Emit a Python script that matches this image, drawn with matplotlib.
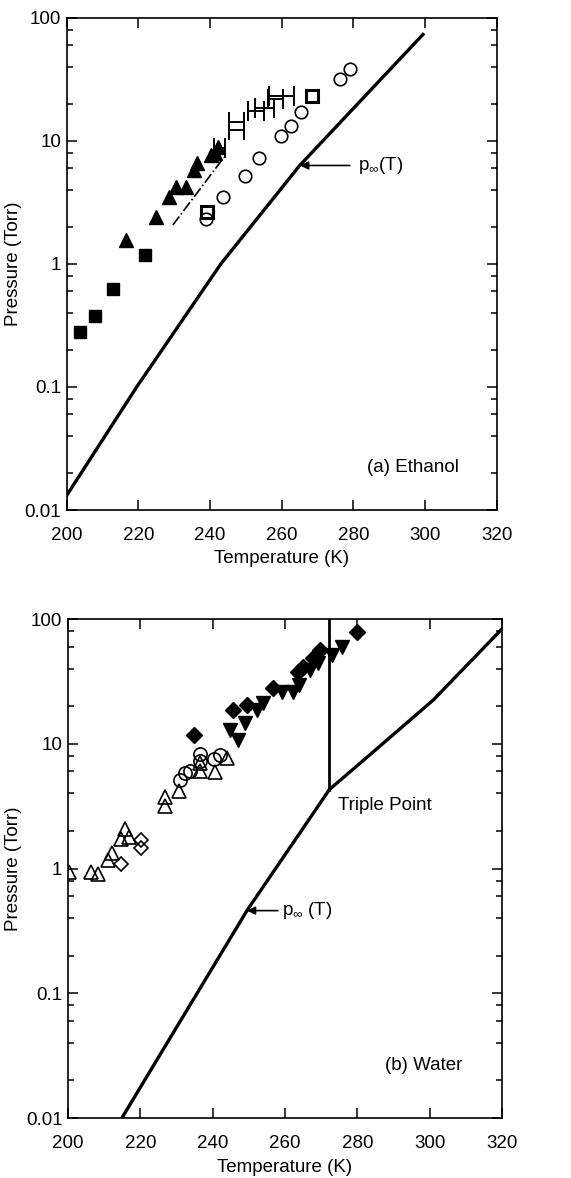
import matplotlib
matplotlib.use("Agg")
import matplotlib.pyplot as plt
from matplotlib.ticker import FixedLocator, FixedFormatter, NullFormatter
import numpy as np

plt.rcParams['font.family'] = ['Liberation Sans', 'DejaVu Sans']
plt.rcParams['mathtext.fontset'] = 'custom'
plt.rcParams['mathtext.rm'] = 'Liberation Sans'
plt.rcParams['mathtext.it'] = 'Liberation Sans'
plt.rcParams['mathtext.default'] = 'regular'

# ---------------- (a) Ethanol ----------------
eth_curve_T = [200.0, 219.5, 243.0, 265.0, 299.4]
eth_curve_P = [0.0132, 0.10, 1.0, 6.3, 73.0]

eth_fsq_T = [203.6, 207.8, 212.9, 221.8]
eth_fsq_P = [0.28, 0.38, 0.62, 1.18]

eth_ftri_T = [216.5, 224.8, 228.6, 230.6, 233.2, 235.5, 236.3, 240.2, 241.3, 242.2]
eth_ftri_P = [1.55, 2.4, 3.5, 4.2, 4.2, 5.8, 6.6, 7.7, 7.9, 8.9]

eth_ocirc_T = [238.8, 243.5, 249.7, 253.7, 259.7, 262.6, 265.4, 276.3, 279.1]
eth_ocirc_P = [2.3, 3.5, 5.2, 7.3, 11.0, 13.2, 17.2, 31.9, 38.5]

eth_osq_T = [239.0, 268.3]
eth_osq_P = [2.65, 23.0]

eth_eb_T = [247.4, 247.4, 252.9, 255.1, 258.2, 259.8, 242.6]
eth_eb_P = [12.3, 14.1, 17.5, 18.5, 21.8, 23.2, 8.7]
eth_eb_xerr = [2.0, 2.0, 2.2, 2.6, 2.0, 3.5, 1.6]

eth_dash_T = [229.6, 243.8]
eth_dash_P = [2.07, 7.3]

# ---------------- (b) Water ----------------
wat_curve_T = [214.9, 249.5, 272.3, 282.7, 301.0, 319.8]
wat_curve_P = [0.010, 0.46, 4.3, 7.8, 22.4, 82.0]

triple_T = [272.3, 272.3]
triple_P = [4.3, 100.0]

wat_otri_T = [200.2, 206.5, 208.2, 211.0, 212.1, 214.8, 215.9, 216.8, 226.9, 226.9,
              230.7, 236.6, 240.7, 236.4, 243.9]
wat_otri_P = [0.94, 0.94, 0.90, 1.17, 1.33, 1.72, 2.09, 1.78, 3.2, 3.74,
              4.15, 6.1, 5.9, 7.0, 7.7]

wat_odia_T = [214.8, 220.2, 220.2]
wat_odia_P = [1.08, 1.46, 1.68]

wat_ocirc_T = [230.9, 232.5, 233.7, 236.4, 236.4, 240.5, 242.1]
wat_ocirc_P = [5.1, 5.85, 6.0, 8.3, 7.3, 7.6, 8.1]

wat_fdia_T = [234.8, 245.6, 249.4, 256.6, 263.7, 265.0, 267.8, 269.7, 279.9]
wat_fdia_P = [11.8, 18.6, 20.4, 28.0, 37.6, 41.6, 48.7, 56.0, 78.7]

wat_vtri_T = [244.8, 247.0, 248.9, 252.2, 254.0, 259.2, 262.2, 263.9, 266.9, 269.1, 273.0, 275.7]
wat_vtri_P = [12.9, 10.7, 14.7, 18.6, 21.2, 25.8, 25.8, 29.7, 38.8, 44.4, 51.5, 59.7]

x_ticks = [200, 220, 240, 260, 280, 300, 320]
y_ticks = [0.01, 0.1, 1, 10, 100]
y_ticklabels = ['0.01', '0.1', '1', '10', '100']

FS = 13.5

fig = plt.figure(figsize=(5.71, 11.78), dpi=100)
ax1 = fig.add_axes([0.117, 0.567, 0.753, 0.418])
ax2 = fig.add_axes([0.119, 0.0509, 0.760, 0.4236])


def style(ax):
    ax.set_yscale('log')
    ax.set_xlim(200, 320)
    ax.set_ylim(0.01, 100)
    ax.xaxis.set_major_locator(FixedLocator(x_ticks))
    ax.yaxis.set_major_locator(FixedLocator(y_ticks))
    ax.yaxis.set_major_formatter(FixedFormatter(y_ticklabels))
    minors = [m * 10.0 ** e for e in range(-2, 2) for m in (2, 4, 6, 8)]
    ax.yaxis.set_minor_locator(FixedLocator(minors))
    ax.yaxis.set_minor_formatter(NullFormatter())
    ax.tick_params(which='both', direction='in', top=True, right=True,
                   width=1.1, labelsize=FS)
    ax.tick_params(which='major', length=7)
    ax.tick_params(which='minor', length=4)
    ax.tick_params(axis='x', pad=12)
    ax.tick_params(axis='y', pad=4)
    for s in ax.spines.values():
        s.set_linewidth(1.2)
    ax.set_xlabel('Temperature (K)', fontsize=FS)
    ax.set_ylabel('Pressure (Torr)', fontsize=FS)
    ax.yaxis.set_label_coords(-0.105, 0.5)
    ax.xaxis.set_label_coords(0.5, -0.082)


style(ax1)
style(ax2)

# ---- panel a ----
ax1.plot(eth_curve_T, eth_curve_P, color='black', lw=2.4, zorder=2)
ax1.plot(eth_dash_T, eth_dash_P, color='black', lw=1.2, ls='-.', zorder=2)
ax1.errorbar(eth_eb_T, eth_eb_P, xerr=eth_eb_xerr, fmt='none', ecolor='black',
             elinewidth=1.4, capsize=7, capthick=1.4, zorder=3)
ax1.plot(eth_fsq_T, eth_fsq_P, ls='none', marker='s', ms=9, color='black', zorder=4)
ax1.plot(eth_ftri_T, eth_ftri_P, ls='none', marker='^', ms=10.5, color='black', zorder=4)
ax1.plot(eth_ocirc_T, eth_ocirc_P, ls='none', marker='o', ms=9, mfc='none',
         mec='black', mew=1.2, zorder=4)
ax1.plot(eth_osq_T, eth_osq_P, ls='none', marker='s', ms=8, mfc='none',
         mec='black', mew=2.2, zorder=5)
ax1.annotate(r'p$_{\infty}$(T)', xy=(265.1, 6.3), xytext=(281.3, 6.3),
             fontsize=FS, ha='left', va='center',
             arrowprops=dict(arrowstyle='-|>', color='black', lw=1.2,
                             mutation_scale=12, shrinkA=4, shrinkB=0))
ax1.text(309.5, 0.022, '(a) Ethanol', fontsize=FS, ha='right', va='center')

# ---- panel b ----
ax2.plot(wat_curve_T, wat_curve_P, color='black', lw=2.4, zorder=2)
ax2.plot(triple_T, triple_P, color='black', lw=2.0, zorder=2)
ax2.plot(wat_otri_T, wat_otri_P, ls='none', marker='^', ms=10, mfc='none',
         mec='black', mew=1.2, zorder=4)
ax2.plot(wat_odia_T, wat_odia_P, ls='none', marker='D', ms=7.5, mfc='none',
         mec='black', mew=1.2, zorder=4)
ax2.plot(wat_ocirc_T, wat_ocirc_P, ls='none', marker='o', ms=9.5, mfc='none',
         mec='black', mew=1.2, zorder=4)
ax2.plot(wat_fdia_T, wat_fdia_P, ls='none', marker='D', ms=8, color='black', zorder=4)
ax2.plot(wat_vtri_T, wat_vtri_P, ls='none', marker='v', ms=10, color='black', zorder=4)
ax2.annotate(r'p$_{\infty}$ (T)', xy=(249.5, 0.46), xytext=(259.2, 0.46),
             fontsize=FS, ha='left', va='center',
             arrowprops=dict(arrowstyle='-|>', color='black', lw=1.2,
                             mutation_scale=12, shrinkA=1, shrinkB=0))
ax2.text(274.7, 3.2, 'Triple Point', fontsize=FS, ha='left', va='center')
ax2.text(309.2, 0.0266, '(b) Water', fontsize=FS, ha='right', va='center')

fig.savefig('out.png', dpi=100)
